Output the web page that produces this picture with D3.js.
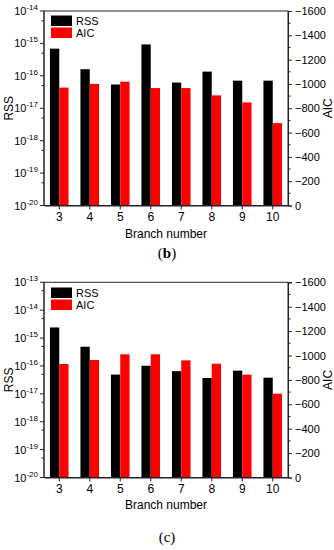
<!DOCTYPE html>
<html><head><meta charset="utf-8">
<script src="https://cdn.jsdelivr.net/npm/d3@7"></script>
<style>body{margin:0;background:#fff}svg{display:block}text{font-family:"Liberation Sans",Arial,sans-serif}</style>
</head><body>
<svg id="c" width="334" height="550"></svg>
<script>
const branches = [3, 4, 5, 6, 7, 8, 9, 10];
const rssB = [6.9e-16, 1.6e-16, 5.4e-17, 9.3e-16, 6.2e-17, 1.35e-16, 7.1e-17, 7.1e-17];
const aicB = [-970, -1000, -1018, -966, -966, -906, -848, -678];
const rssC = [2.4e-15, 4.9e-16, 4.9e-17, 1.02e-16, 6.5e-17, 3.7e-17, 6.8e-17, 3.8e-17];
const aicC = [-930, -963, -1010, -1010, -960, -933, -843, -687];
const aicTicks = [0, -200, -400, -600, -800, -1000, -1200, -1400, -1600];
const seriesNames = ["RSS", "AIC"];
const seriesColors = ["#000000", "#ff0000"];

const svg = d3.select("#c");
const L = 44, R = 288;

function supLabel(sel, exp) {
  sel.text("10");
  sel.append("tspan").attr("dy", -5).attr("font-size", 8).text(exp);
}

function panel(opt) {
  const { top, bottom, rss, aic, logMax, tag } = opt;
  const g = svg.append("g");
  const x = d3.scaleBand().domain(branches).range([L, R]).paddingInner(0.39).paddingOuter(0.195);
  const xs = d3.scaleBand().domain(seriesNames).range([0, x.bandwidth()]);
  const y = d3.scaleLog().domain([1e-20, Math.pow(10, logMax)]).range([bottom, top]);
  const y2 = d3.scaleLinear().domain([0, -1600]).range([bottom, top]);

  branches.forEach((b, i) => {
    g.append("rect").attr("x", x(b) + xs("RSS")).attr("width", xs.bandwidth())
      .attr("y", y(rss[i])).attr("height", bottom - y(rss[i])).attr("fill", seriesColors[0]);
    g.append("rect").attr("x", x(b) + xs("AIC")).attr("width", xs.bandwidth())
      .attr("y", y2(aic[i])).attr("height", bottom - y2(aic[i])).attr("fill", seriesColors[1]);
  });

  g.append("rect").attr("x", L).attr("y", top).attr("width", R - L).attr("height", bottom - top)
    .attr("fill", "none").attr("stroke", "#222").attr("stroke-width", 1);

  const decades = d3.range(-20, logMax + 1).map(e => Math.pow(10, e));
  const minors = d3.range(-20, logMax).map(e => 5 * Math.pow(10, e));
  const la = g.append("g").attr("transform", `translate(${L},0)`);
  la.append("line").attr("y1", top).attr("y2", bottom).attr("stroke", "#222");
  decades.forEach(v => {
    la.append("line").attr("x1", -4).attr("x2", 0).attr("y1", y(v)).attr("y2", y(v)).attr("stroke", "#222");
    const t = la.append("text").attr("x", -6).attr("y", y(v) + 4).attr("text-anchor", "end").attr("font-size", 11);
    supLabel(t, Math.round(Math.log10(v)));
  });
  minors.forEach(v => {
    const yy = y(v);
    la.append("line").attr("x1", -2.5).attr("x2", 0).attr("y1", yy).attr("y2", yy).attr("stroke", "#222");
  });

  const ra = g.append("g").attr("transform", `translate(${R},0)`);
  ra.call(d3.axisRight(y2).tickValues(aicTicks).tickSize(4).tickPadding(3).tickFormat(d3.format("d")));
  ra.selectAll("text").attr("font-size", 11).attr("fill", "#000").style("font-family", '"Liberation Sans",Arial,sans-serif');
  ra.selectAll("path,line").attr("stroke", "#222");
  d3.range(-100, -1600, -200).forEach(v => {
    ra.append("line").attr("x1", 0).attr("x2", 2.5).attr("y1", y2(v)).attr("y2", y2(v)).attr("stroke", "#222");
  });

  const ba = g.append("g").attr("transform", `translate(0,${bottom})`);
  ba.call(d3.axisBottom(x).tickSize(4).tickPadding(3).tickSizeOuter(0));
  ba.selectAll("text").attr("font-size", 12).attr("fill", "#000").style("font-family", '"Liberation Sans",Arial,sans-serif');
  ba.selectAll("path,line").attr("stroke", "#222");

  const mid = (top + bottom) / 2;
  g.append("text").attr("transform", `translate(13,${mid}) rotate(-90)`).attr("text-anchor", "middle")
    .attr("font-size", 12).text("RSS");
  g.append("text").attr("transform", `translate(332,${mid}) rotate(-90)`).attr("text-anchor", "middle")
    .attr("font-size", 12).text("AIC");
  g.append("text").attr("x", (L + R) / 2).attr("y", opt.xTitleY).attr("text-anchor", "middle")
    .attr("font-size", 12).text("Branch number");

  const lg = g.append("g").attr("transform", `translate(51,${opt.legY})`);
  seriesNames.forEach((n, i) => {
    lg.append("rect").attr("x", 0).attr("y", i * 12).attr("width", 21).attr("height", 10.5).attr("fill", seriesColors[i]);
    lg.append("text").attr("x", 25).attr("y", i * 12 + 9.5).attr("font-size", 11).text(n);
  });

  const tt = svg.append("text").attr("x", 167).attr("y", opt.tagY).attr("text-anchor", "middle")
    .attr("font-size", 15).style("font-family", '"Liberation Serif","Times New Roman",serif');
  tt.append("tspan").text("(");
  tt.append("tspan").attr("font-weight", opt.bold ? "bold" : "normal").text(tag);
  tt.append("tspan").text(")");
}

panel({ top: 11, bottom: 205.5, rss: rssB, aic: aicB, logMax: -14, tag: "b", bold: true, xTitleY: 238, legY: 15.5, tagY: 258 });
panel({ top: 282.3, bottom: 477.5, rss: rssC, aic: aicC, logMax: -13, tag: "c", bold: false, xTitleY: 509, legY: 287.5, tagY: 542 });
</script>
</body></html>
